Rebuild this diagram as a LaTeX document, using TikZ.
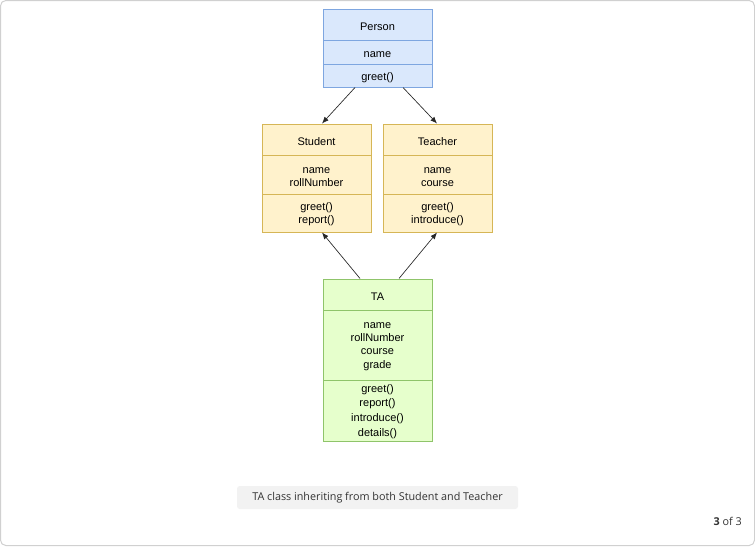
\documentclass[tikz,border=0pt]{standalone}
\usepackage{fontspec}
\setmainfont{Liberation Sans}
\newfontfamily\capfont{Open Sans}
\usetikzlibrary{calc,arrows.meta}
\definecolor{bluefill}{HTML}{DAE8FC}
\definecolor{bluestroke}{HTML}{7EA6E0}
\definecolor{yelfill}{HTML}{FFF2CC}
\definecolor{yelstroke}{HTML}{D6B656}
\definecolor{grnfill}{HTML}{E6FFCC}
\definecolor{grnstroke}{HTML}{8FC46A}
\definecolor{capfill}{HTML}{F2F2F2}
\definecolor{captext}{HTML}{333333}
\definecolor{frame}{HTML}{D0D0D0}
\tikzset{
  comp/.style={draw, rectangle, minimum width=81.75pt, inner sep=0pt, line width=0.75pt},
  txt/.style={align=center, inner sep=0pt, yshift=-1.9pt, font=\fontsize{8.25}{9.75}\selectfont},
  pcomp/.style={comp, fill=bluefill, draw=bluestroke},
  ycomp/.style={comp, fill=yelfill, draw=yelstroke},
  gcomp/.style={comp, fill=grnfill, draw=grnstroke},
  inh/.style={draw=black!85, line width=0.5pt, -{Latex[length=5pt,width=4pt]}},
}
\begin{document}
\begin{tikzpicture}[x=0.75pt,y=-0.75pt]
\useasboundingbox (0,0) rectangle (755,546);
\draw[rounded corners=4pt, draw=frame, line width=0.75pt] (0.5,0.5) rectangle (754.5,545.5);
% Person
\node[pcomp, minimum height=23.25pt, label={[txt]center:Person}] (ph) at (377.5,24.5) {};
\node[pcomp, minimum height=18pt, label={[txt]center:name}] (pa) at (377.5,52) {};
\node[pcomp, minimum height=17.25pt, label={[txt]center:greet()}] (pm) at (377.5,75.5) {};
% Student
\node[ycomp, minimum height=23.25pt, label={[txt]center:Student}] (sh) at (316.5,139.5) {};
\node[ycomp, minimum height=29.25pt, label={[txt]center:{name\\rollNumber}}] (sa) at (316.5,174.5) {};
\node[ycomp, minimum height=28.5pt, label={[txt, yshift=1.2pt]center:{greet()\\report()}}] (sm) at (316.5,213) {};
% Teacher
\node[ycomp, minimum height=23.25pt, label={[txt]center:Teacher}] (th) at (437.5,139.5) {};
\node[ycomp, minimum height=29.25pt, label={[txt]center:{name\\course}}] (ta) at (437.5,174.5) {};
\node[ycomp, minimum height=28.5pt, label={[txt, yshift=1.2pt]center:{greet()\\introduce()}}] (tm) at (437.5,213) {};
% TA
\node[gcomp, minimum height=23.25pt, label={[txt]center:TA}] (gh) at (377.5,294.5) {};
\node[gcomp, minimum height=52.5pt, label={[txt, yshift=0.8pt, font=\fontsize{8.25}{10}\selectfont]center:{name\\rollNumber\\course\\grade}}] (ga) at (377.5,345) {};
\node[gcomp, minimum height=45.75pt, label={[txt, yshift=1.2pt, font=\fontsize{8.25}{11}\selectfont]center:{greet()\\report()\\introduce()\\details()}}] (gm) at (377.5,410.5) {};
% arrows
\draw[inh] ($(pm.south)+(-22.5,0)$) -- ($(sh.north)+(5.5,0)$);
\draw[inh] ($(pm.south)+(25.5,0)$) -- ($(th.north)+(-0.5,0)$);
\draw[inh] ($(gh.north)+(-17.5,0)$) -- ($(sm.south)+(5.5,0)$);
\draw[inh] ($(gh.north)+(21.5,0)$) -- ($(tm.south)+(-0.5,0)$);
% caption
\node[fill=capfill, rounded corners=2pt, minimum width=210.75pt, minimum height=17.25pt, inner sep=0pt,
  text=captext, font=\capfont\fontsize{8.1}{10}\selectfont] (cap) at (377.5,497.5)
  {TA class inheriting from both Student and Teacher};
\node[text=captext, inner sep=0pt, font=\capfont\fontsize{8.1}{10}\selectfont, anchor=east] (pg) at (742,521) {\textbf{3} of 3};
\end{tikzpicture}
\end{document}
